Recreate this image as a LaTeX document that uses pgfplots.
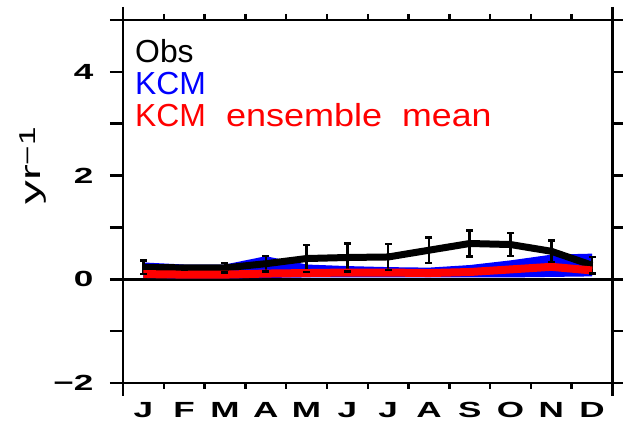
\documentclass[border=0pt]{standalone}
\usepackage{pgfplots}
\usepackage{pgfplotstable}
\pgfplotsset{compat=1.18}
\usepgfplotslibrary{fillbetween}
\usepackage{graphicx}
\usepackage{fontspec}
\setmainfont{Liberation Sans}
\newfontfamily\labelfont[FakeStretch=1.7]{Liberation Sans}
\newfontfamily\supfont[FakeStretch=1.45]{Liberation Sans}
\newfontfamily\tickfont[FakeStretch=1.6]{Liberation Sans}

% monthly values, plotted at month centres
\pgfplotstableread{
x     obs   err   kcmhi kcmlo ens
0.5   0.23  0.13  0.31  0.04  0.10
1.5   0.22  0.04  0.27  0.03  0.09
2.5   0.22  0.09  0.27  0.03  0.09
3.5   0.30  0.15  0.43  0.04  0.11
4.5   0.40  0.26  0.27  0.05  0.12
5.5   0.42  0.27  0.24  0.05  0.13
6.5   0.43  0.25  0.22  0.05  0.13
7.5   0.56  0.25  0.21  0.05  0.12
8.5   0.69  0.25  0.26  0.05  0.14
9.5   0.67  0.22  0.35  0.05  0.19
10.5  0.54  0.21  0.46  0.06  0.24
11.5  0.27  0.16  0.48  0.07  0.17
}\monthly

\begin{document}
\begin{tikzpicture}
\begin{axis}[
  name=ax,
  scale only axis, width=489.5bp, height=363bp,
  xmin=0, xmax=12, ymin=-2, ymax=5,
  axis line style={line width=2.5bp},
  every tick/.style={black, line width=2.5bp},
  tick align=outside,
  major tick length=13bp, minor tick length=6bp,
  xtick={0,12}, xticklabels={}, minor xtick={1,...,11},
  extra x ticks={0.5,1.5,...,11.5},
  extra x tick labels={J,F,M,A,M,J,J,A,S,O,N,D},
  extra x tick style={major tick length=0pt,
    tick label style={yshift=-16bp}},
  ytick={-2,...,5}, yticklabels={−2,,0,,2,,4,},
  tick label style={font=\tickfont\bfseries\fontsize{22}{24}\selectfont},
  yticklabel style={xshift=-13bp},
  every axis y label/.style={at={(axis description cs:-0.1553,0.598)},
    rotate=90, anchor=south, inner sep=0pt},
  ylabel={\labelfont\fontsize{28}{30}\selectfont yr\raisebox{5bp}{\supfont\fontsize{23}{24}\selectfont −1}},
]
% zero reference
\addplot[black, line width=2.5bp] coordinates {(0,0) (12,0)};
% KCM member spread
\addplot[blue, line width=1.5bp, name path=hi] table[x=x, y=kcmhi] {\monthly};
\addplot[blue, line width=1.5bp, name path=lo] table[x=x, y=kcmlo] {\monthly};
\addplot[blue] fill between[of=hi and lo];
% observations with error bars
\addplot[black, line width=7bp, line join=round,
  error bars/.cd, y dir=both, y explicit, error mark=none,
  error bar style={line width=2.5bp}]
  table[x=x, y=obs, y error=err] {\monthly};
% caps at both ends of each error bar
\addplot[black, only marks, mark=-, mark size=3.5bp,
  mark options={line width=2.5bp}]
  table[x=x, y expr=\thisrow{obs}+\thisrow{err}] {\monthly};
\addplot[black, only marks, mark=-, mark size=3.5bp,
  mark options={line width=2.5bp}]
  table[x=x, y expr=\thisrow{obs}-\thisrow{err}] {\monthly};
% ensemble mean
\addplot[red, line width=8bp] table[x=x, y=ens] {\monthly};
\end{axis}
\begin{scope}[every node/.style={anchor=base west, inner sep=0pt,
  font=\fontsize{32}{36}\selectfont}]
\node[black] at ([xshift=12bp,yshift=-42.7bp]ax.north west) {Obs};
\node[blue]  at ([xshift=12bp,yshift=-75bp]ax.north west) {KCM};
\node[red]   at ([xshift=12bp,yshift=-107bp]ax.north west)
  {KCM\hspace{20bp}\scalebox{1.13}[1]{ensemble}\hspace{20bp}\scalebox{1.12}[1]{mean}};
\end{scope}
\pgfresetboundingbox
\path ([xshift=-123bp,yshift=-47bp]ax.south west)
  rectangle ([xshift=10.5bp,yshift=20bp]ax.north east);
\end{tikzpicture}
\end{document}
